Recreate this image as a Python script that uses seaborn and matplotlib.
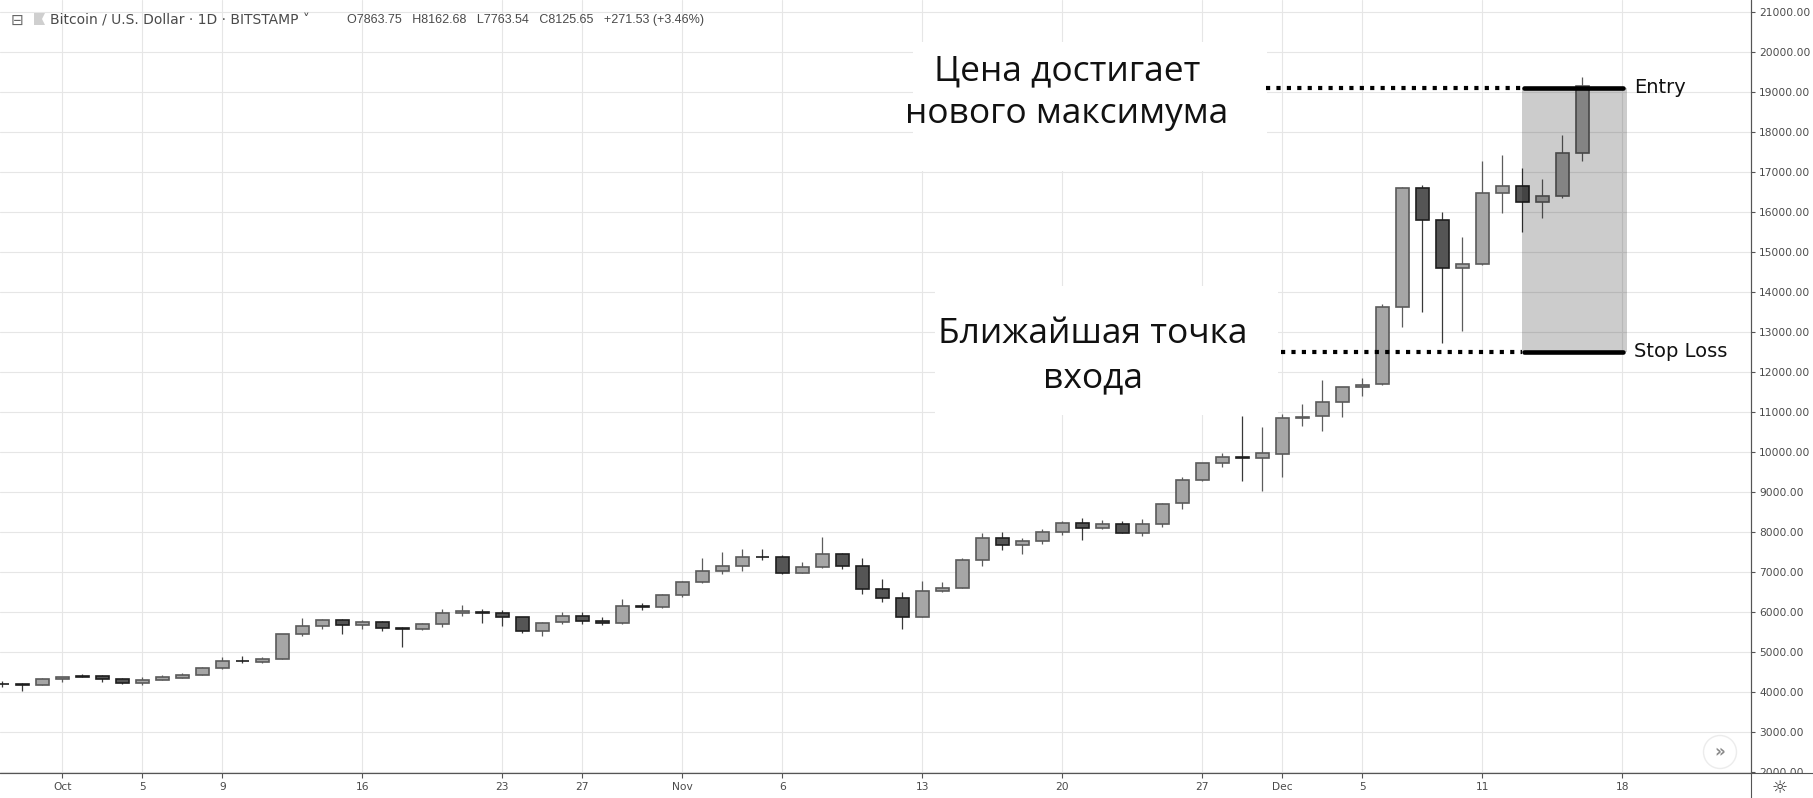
import pandas as pd
import seaborn as sns
import matplotlib.pyplot as plt
from matplotlib.patches import Rectangle, Polygon
from matplotlib.lines import Line2D

# daily BTC/USD candles
dates = pd.date_range("2017-09-28", "2017-12-16", freq="D")
opens = [4212, 4210, 4175, 4333, 4405, 4408, 4333, 4225, 4308, 4358,
         4433, 4608, 4790, 4758, 4833, 5458, 5658, 5808, 5683, 5758,
         5600, 5583, 5708, 5983, 6010, 5983, 5883, 5533, 5758, 5908,
         5780, 5733, 6145, 6133, 6433, 6758, 7033, 7158, 7388, 7383,
         6983, 7133, 7458, 7158, 6583, 6358, 5883, 6533, 6608, 7308,
         7858, 7683, 7783, 8008, 8233, 8108, 8208, 7983, 8208, 8725,
         9300, 9725, 9880, 9850, 9950, 10860, 10900, 11250, 11625, 11700,
         13625, 16600, 15800, 14600, 14700, 16475, 16650, 16250, 16400, 17475]
highs = [4290, 4240, 4360, 4390, 4460, 4440, 4360, 4383, 4433, 4483,
         4633, 4883, 4900, 4883, 5460, 5858, 5833, 5833, 5808, 5783,
         5633, 5733, 6083, 6183, 6083, 6058, 5890, 5758, 6008, 6008,
         5883, 6333, 6233, 6458, 6770, 7367, 7517, 7592, 7592, 7433,
         7258, 7883, 7483, 7358, 6833, 6508, 6783, 6758, 7358, 7983,
         8008, 7858, 8083, 8283, 8358, 8308, 8283, 8333, 8733, 9375,
         9740, 9983, 10908, 10633, 10950, 11200, 11808, 11630, 11850, 13700,
         16640, 16675, 16000, 15375, 17275, 17425, 17100, 16825, 17925, 19375]
lows = [4140, 4040, 4170, 4250, 4370, 4250, 4200, 4175, 4300, 4350,
        4430, 4575, 4725, 4725, 4830, 5400, 5575, 5458, 5575, 5525,
        5125, 5558, 5625, 5900, 5733, 5658, 5475, 5400, 5708, 5708,
        5683, 5708, 6050, 6100, 6375, 6725, 6950, 7025, 7308, 6958,
        6975, 7108, 7083, 6458, 6258, 5583, 5880, 6508, 6600, 7158,
        7558, 7458, 7708, 7933, 7808, 8083, 7975, 7908, 8133, 8575,
        9290, 9625, 9292, 9042, 9392, 10667, 10542, 10892, 11417, 11690,
        13125, 13517, 12725, 13042, 14690, 15992, 15517, 15867, 16350, 17292]
closes = [4208, 4170, 4333, 4383, 4380, 4333, 4225, 4308, 4383, 4433,
          4608, 4783, 4770, 4833, 5458, 5658, 5808, 5683, 5758, 5608,
          5580, 5708, 5983, 6033, 5990, 5883, 5533, 5733, 5908, 5783,
          5740, 6158, 6138, 6433, 6758, 7033, 7158, 7383, 7380, 6983,
          7133, 7458, 7158, 6583, 6358, 5883, 6533, 6608, 7308, 7858,
          7683, 7783, 8008, 8233, 8108, 8208, 7983, 8208, 8708, 9300,
          9725, 9875, 9850, 9975, 10850, 10870, 11250, 11625, 11692, 13625,
          16600, 15800, 14600, 14700, 16475, 16650, 16250, 16400, 17475, 19158]

tick_dates = ["2017-10-01", "2017-10-05", "2017-10-09", "2017-10-16", "2017-10-23",
              "2017-10-27", "2017-11-01", "2017-11-06", "2017-11-13", "2017-11-20",
              "2017-11-27", "2017-12-01", "2017-12-05", "2017-12-11", "2017-12-18"]
tick_labels = ["Oct", "5", "9", "16", "23", "27", "Nov", "6", "13", "20", "27",
               "Dec", "5", "11", "18"]
price_ticks = list(range(2000, 21001, 1000))

entry_level = 19117
stop_level = 12517
header_title = "Bitcoin / U.S. Dollar · 1D · BITSTAMP ˅"
header_ohlc = "O7863.75   H8162.68   L7763.54   C8125.65   +271.53 (+3.46%)"
note_top = "Цена достигает\nнового максимума"
note_bottom = "Ближайшая точка\nвхода"

origin = pd.Timestamp("2017-10-01")
x = (dates - origin).days.values
tick_x = [(pd.Timestamp(d) - origin).days for d in tick_dates]

sns.set_theme(style="whitegrid", rc={
    "grid.color": "#e6e6e6", "grid.linewidth": 0.8,
    "axes.edgecolor": "#555555", "axes.linewidth": 0.8,
})
plt.rcParams["font.family"] = ["DejaVu Sans"]

W, H = 1813, 798
fig = plt.figure(figsize=(W / 100, H / 100), dpi=100)
ax = fig.add_axes([0, 25 / H, 1751 / W, 773 / H])
ax.set_xlim(-3.12, 84.43)
ax.set_ylim(1982.5, 21307)

# candles
bull_fill, bull_edge = "#a6a6a6", "#5a5a5a"
bear_fill, bear_edge = "#555555", "#1e1e1e"
for xi, o, h, l, c in zip(x, opens, highs, lows, closes):
    up = c >= o
    ax.vlines(xi, l, h, color="#5c5c5c" if up else "#383838", lw=0.9, zorder=2)
    ax.bar(xi, max(abs(c - o), 1), bottom=min(o, c), width=0.62,
           color=bull_fill if up else bear_fill,
           edgecolor=bull_edge if up else bear_edge, linewidth=1.2, zorder=3)

# shaded entry zone
ax.fill_between([72.98, 78.22], stop_level, entry_level, color="black",
                alpha=0.2, lw=0, zorder=4)

# entry / stop lines
for lvl, start in [(entry_level, 60.18), (stop_level, 60.93)]:
    ax.plot([start, 72.98], [lvl, lvl], color="black", lw=3.0,
            linestyle=(0, (1, 1.5)), dash_capstyle="butt", zorder=5)
    ax.plot([73.1, 78.05], [lvl, lvl], color="black", lw=3.3,
            solid_capstyle="round", zorder=5)
ax.text(78.6, entry_level, "Entry", fontsize=14, color="#111111", va="center", ha="left",
        zorder=6)
ax.text(78.6, stop_level, "Stop Loss", fontsize=14, color="#111111", va="center",
        ha="left", zorder=6)

# annotation boxes
note_font = ["Open Sans", "DejaVu Sans"]
ax.add_patch(Rectangle((42.53, 17032), 60.23 - 42.53, 20257 - 17032,
                       facecolor="white", edgecolor="none", zorder=4))
ax.add_patch(Rectangle((43.63, 10932), 60.78 - 43.63, 14157 - 10932,
                       facecolor="white", edgecolor="none", zorder=4))
for i, line in enumerate(note_top.split("\n")):
    ax.text(50.23, 19307 - i * 1083, line, fontsize=25.5, family=note_font,
            color="#111111", ha="center", va="baseline", zorder=6)
for i, line in enumerate(note_bottom.split("\n")):
    ax.text(51.53, 12725 - i * 1110, line, fontsize=25.5, family=note_font,
            color="#111111", ha="center", va="baseline", zorder=6)

# axes styling
ax.set_xticks(tick_x)
ax.set_xticklabels(tick_labels)
ax.set_yticks(price_ticks)
ax.set_yticklabels([f"{v:.2f}" for v in price_ticks])
ax.yaxis.tick_right()
ax.tick_params(axis="y", right=True, left=False, length=3, width=0.8, pad=3,
               labelsize=7.7, colors="#555555", labelcolor="#4a4a4a")
ax.tick_params(axis="x", bottom=True, length=3.6, width=0.8, pad=3.2,
               labelsize=7.7, colors="#555555", labelcolor="#4a4a4a")
ax.grid(True, color="#e6e6e6", lw=0.8)
ax.set_axisbelow(True)
for side in ["top", "left"]:
    ax.spines[side].set_visible(False)
ax.spines["right"].set_color("#555555")
ax.spines["bottom"].set_color("#555555")

def fx(px):
    return px / W

def fy(py):
    return 1 - py / H

# hide lower half of the 2000.00 label, extend spines
fig.add_artist(Rectangle((fx(1751.5), 0), fx(W) - fx(1751.5), fy(773.5),
                         transform=fig.transFigure, facecolor="white",
                         edgecolor="none", zorder=2))
fig.add_artist(Line2D([0, 1], [fy(773), fy(773)], color="#555555", lw=0.8, zorder=3))
fig.add_artist(Line2D([fx(1751), fx(1751)], [0, 1], color="#555555", lw=0.8, zorder=3))
fig.text(fx(1780), fy(788), "☼", fontsize=13, color="#333333", ha="center",
         va="center", zorder=4)

# scroll button
ax.text(fx(1720) / (1751 / W), 1 - 752 / 773, "»", transform=ax.transAxes,
        fontsize=12, fontweight="bold", color="#8a8a8a", ha="center", va="center",
        bbox=dict(boxstyle="circle,pad=0.45", fc="white", ec="#ececec", lw=1.0),
        zorder=6)

# header
fig.text(fx(11), fy(20), "⊟", fontsize=11, color="#666666", va="center", ha="left")
fig.add_artist(Polygon([(fx(34), fy(13)), (fx(45), fy(13)), (fx(42), fy(19)),
                        (fx(45), fy(25)), (fx(34), fy(25))], closed=True,
                       transform=fig.transFigure, facecolor="#cfcfcf",
                       edgecolor="none"))
fig.text(fx(50), fy(20), header_title, fontsize=10, family=["DejaVu Sans"],
         color="#4a4a4a", va="center", ha="left")
fig.text(fx(347), fy(20), header_ohlc, fontsize=9,
         family=["Liberation Sans", "DejaVu Sans"], color="#4a4a4a",
         va="center", ha="left")

fig.savefig("out.png", dpi=100, facecolor="white")
